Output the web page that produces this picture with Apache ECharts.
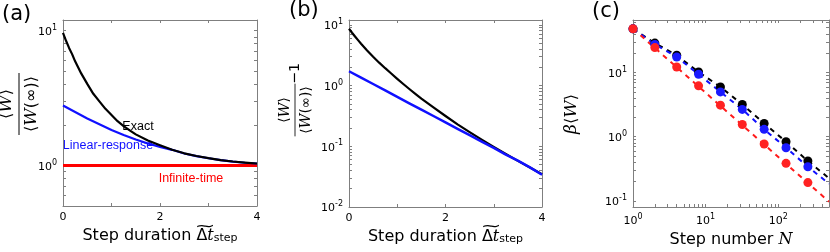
<!DOCTYPE html>
<html><head><meta charset="utf-8">
<script src="https://cdn.jsdelivr.net/npm/echarts@6/dist/echarts.min.js"></script>
<style>html,body{margin:0;padding:0;background:#fff}#c{width:830px;height:252px}</style>
</head><body><div id="c"></div>
<script>
// ---------- data ----------
const fineDuration = [0,0.0625,0.125,0.1875,0.25,0.375,0.5,0.625,0.75,0.875,1,1.125,1.25,1.375,1.5,1.75,2,2.25,2.5,2.75,3,3.25,3.5,3.75,4];
const coarseDuration = [0,0.25,0.5,0.75,1,1.25,1.5,1.75,2,2.25,2.5,2.75,3,3.25,3.5,3.75,4];
// panel (a): <W>/<W(inf)>
const exactRatio = [9.62,8.41,7.45,6.70,5.92,4.82,4.03,3.40,2.99,2.63,2.37,2.13,1.96,1.82,1.70,1.53,1.41,1.306,1.23,1.175,1.132,1.096,1.069,1.05,1.034];
const linRespRatio = [2.78,2.49,2.23,2.02,1.83,1.68,1.556,1.455,1.374,1.306,1.227,1.172,1.130,1.094,1.067,1.047,1.034];
const infTimeDur = [0,4];
const infTimeRatio = [1,1];
// panel (b): <W>/<W(inf)> - 1
const exactExcess = [8.61,7.41,6.43,5.59,4.88,3.78,2.97,2.38,1.93,1.58,1.29,1.06,0.877,0.731,0.611,0.437,0.315,0.230,0.171,0.1285,0.0977,0.0747,0.0575,0.0446,0.0346];
const linRespExcess = [1.72,1.35,1.06,0.83,0.65,0.51,0.40,0.315,0.247,0.194,0.152,0.119,0.094,0.073,0.058,0.045,0.034];
// panel (c): beta<W> vs step number N (markers)
const stepNumber = [1,2,4,8,16,32,64,128,256];
const exactWork = [48,28.8,18.6,10.2,5.97,3.18,1.61,0.834,0.417];
const linRespWork = [48,27.5,17.5,9.4,4.99,2.66,1.30,0.672,0.34];
const infTimeWork = [48.3,24.5,12.2,6.2,3.10,1.55,0.77,0.384,0.192];
// panel (c): dashed curves
const curveN = [1,2,4,8,16,32,64,128,256,500];
const exactCurve = [48,28.8,18.6,10.2,5.97,3.18,1.61,0.834,0.417,0.225];
const linRespCurve = [48,27.5,17.5,9.4,4.99,2.66,1.30,0.672,0.34,0.185];
const infTimeCurve = [48.3,24.2,12.1,6.05,3.02,1.51,0.755,0.378,0.189,0.097];
// ticks / labels
const linTicks = [0,1,2,3,4];
const linLabels = [0,2,4];
const yTicksA = [0.5,0.6,0.7,0.8,0.9,1,2,3,4,5,6,7,8,9,10];
const yLabelsA = [1,10];
const yTicksB = [0.01,0.02,0.03,0.04,0.05,0.06,0.07,0.08,0.09,0.1,0.2,0.3,0.4,0.5,0.6,0.7,0.8,0.9,1,2,3,4,5,6,7,8,9,10];
const yLabelsB = [0.01,0.1,1,10];
const yTicksC = [0.1,0.2,0.3,0.4,0.5,0.6,0.7,0.8,0.9,1,2,3,4,5,6,7,8,9,10,20,30,40,50,60];
const yLabelsC = [0.1,1,10];
const xTicksC = [1,2,3,4,5,6,7,8,9,10,20,30,40,50,60,70,80,90,100,200,300,400,500];
const xLabelsC = [1,10,100];

// ---------- styles ----------
const GRAY = '#7f7f7f';
const FONT = 'DejaVu Sans';
const NOTE = 'Liberation Sans';
const zip = (a,b) => a.map((v,i)=>[v,b[i]]);
const powFmt = v => '{m|10}{e|' + Math.round(Math.log10(v)) + '}';
const powRich = {m:{fontSize:11,fontFamily:FONT,color:'#000',lineHeight:14,verticalAlign:'bottom'},
                 e:{fontSize:8,fontFamily:FONT,color:'#000',lineHeight:8,verticalAlign:'top'}};
const nameRich = {r:{fontSize:16,fontFamily:FONT,color:'#000'},
                  d:{fontSize:16,fontFamily:FONT,color:'#000'},
                  t:{fontSize:16,fontFamily:'DejaVu Serif',fontStyle:'italic',color:'#000'},
                  s:{fontSize:11,fontFamily:FONT,color:'#000',verticalAlign:'bottom',lineHeight:10}};

function axis(grid, pos, type, min, max, ticks, labels, name, nameGap) {
  const main = !!labels;
  const a = {
    type, gridIndex: grid, position: pos, min, max,
    axisLine: {show: true, onZero: false, lineStyle: {color: GRAY, width: 1}},
    axisTick: {show: true, inside: true, length: 3, customValues: ticks, lineStyle: {color: GRAY, width: 1}},
    splitLine: {show: false},
    axisLabel: main ? {show: true, customValues: labels, fontFamily: FONT, fontSize: 11, color: '#000', margin: 6,
      hideOverlap: false, showMinLabel: true, showMaxLabel: true,
      formatter: type === 'log' ? powFmt : (v => String(v)), rich: powRich} : {show: false}
  };
  if (type === 'log') a.logBase = 10;
  if (name) {
    a.name = name; a.nameLocation = 'middle'; a.nameGap = nameGap;
    a.nameTextStyle = {rich: nameRich, fontFamily: FONT, fontSize: 16, color: '#000'};
  }
  return a;
}

const xName = '{r|Step duration }{d|Δ}{t|t}{s|step}';
const grids = [
  {left: 63, top: 20, width: 194, height: 186},
  {left: 349, top: 20, width: 193, height: 187},
  {left: 633, top: 20, width: 196, height: 187}
].map(g => Object.assign({containLabel: false, outerBoundsMode: 'none', show: false}, g));

const xAxes = [
  axis(0,'bottom','value',0,4,linTicks,linLabels,xName,22),
  axis(0,'top','value',0,4,linTicks,null),
  axis(1,'bottom','value',0,4,linTicks,linLabels,xName,22),
  axis(1,'top','value',0,4,linTicks,null),
  axis(2,'bottom','log',1,500,xTicksC,xLabelsC,'{r|Step number }{t|N}',24),
  axis(2,'top','log',1,500,xTicksC,null)
];
const yAxes = [
  axis(0,'left','log',0.5,12,yTicksA,yLabelsA),
  axis(0,'right','log',0.5,12,yTicksA,null),
  axis(1,'left','log',0.01,12,yTicksB,yLabelsB),
  axis(1,'right','log',0.01,12,yTicksB,null),
  axis(2,'left','log',0.08,66,yTicksC,yLabelsC),
  axis(2,'right','log',0.08,66,yTicksC,null)
];

function line(xi, yi, data, color, width, dash) {
  return {type:'line', xAxisIndex: xi, yAxisIndex: yi, data, showSymbol:false, symbol:'none', smooth:false,
    lineStyle:{color, width, type: dash ? [5,5] : 'solid', join:'round', cap:'butt'}, silent:true, animation:false, z:2};
}
function dots(data, color) {
  return {type:'scatter', xAxisIndex:4, yAxisIndex:4, data, symbolSize:9, itemStyle:{color, opacity:1},
    animation:false, silent:true, z:3, clip:false};
}

const series = [
  line(0,0,zip(infTimeDur,infTimeRatio),'#ff0000',3),
  line(0,0,zip(coarseDuration,linRespRatio),'#1010ff',2.2),
  line(0,0,zip(fineDuration,exactRatio),'#000000',2.2),
  line(2,2,zip(fineDuration,exactExcess),'#000000',2.2),
  line(2,2,zip(coarseDuration,linRespExcess),'#1010ff',2.5),
  line(4,4,zip(curveN,exactCurve),'#000000',2,true),
  line(4,4,zip(curveN,linRespCurve),'#1010ff',2,true),
  line(4,4,zip(curveN,infTimeCurve),'#ff1a1a',2,true),
  dots(zip(stepNumber,exactWork),'#000000'),
  dots(zip(stepNumber,linRespWork),'#1a1aff'),
  dots(zip(stepNumber,infTimeWork),'#ff2222')
];

const bra = {fontSize:16,fontFamily:FONT,color:'#000'};
const wI = {fontSize:17,fontFamily:'DejaVu Serif',fontStyle:'italic',color:'#000'};
function frac(x, y, s, extra) {
  const ch = [
    {type:'text', x:0, y:-12, style:{text:'{b|⟨}{w|W}{b|⟩}', rich:{b:bra,w:wI}, align:'center', verticalAlign:'middle'}},
    {type:'line', shape:{x1:-31,y1:0,x2:31,y2:0}, style:{stroke:'#000', lineWidth:1}},
    {type:'text', x:0, y:13, style:{text:'{b|⟨}{w|W}{b|(∞)⟩}', rich:{b:bra,w:wI}, align:'center', verticalAlign:'middle'}}
  ];
  if (extra) ch.push({type:'text', x:43, y:0, style:{text:'−1', font:'17px '+FONT, fill:'#000', align:'center', verticalAlign:'middle'}});
  return {type:'group', x, y, scaleX:s, scaleY:s, rotation: Math.PI/2, children: ch};
}
function tilde(x, y) {
  return {type:'text', x, y, scaleX:1.8, style:{text:'~', font:'14px '+FONT, fill:'#000', align:'center', verticalAlign:'middle'}};
}
const graphic = [
  {type:'text', x:2, y:15, style:{text:'(a)', font:'21px '+FONT, fill:'#000', verticalAlign:'middle'}},
  {type:'text', x:289, y:11, style:{text:'(b)', font:'21px '+FONT, fill:'#000', verticalAlign:'middle'}},
  {type:'text', x:592, y:12, style:{text:'(c)', font:'21px '+FONT, fill:'#000', verticalAlign:'middle'}},
  frac(19, 104, 1, false),
  frac(295, 110, 0.85, true),
  {type:'text', x:572, y:114, rotation:Math.PI/2, style:{text:'{w|β}{b|⟨}{w|W}{b|⟩}', rich:{b:bra,w:wI}, align:'center', verticalAlign:'middle'}},
  {type:'text', x:138, y:127, style:{text:'Exact', font:'12.5px '+NOTE, fill:'#000', align:'center', verticalAlign:'middle'}},
  {type:'text', x:108, y:146, style:{text:'Linear-response', font:'12.5px '+NOTE, fill:'#1010ff', align:'center', verticalAlign:'middle'}},
  {type:'text', x:191, y:179, style:{text:'Infinite-time', font:'12.5px '+NOTE, fill:'#ff0000', align:'center', verticalAlign:'middle'}},
  tilde(205, 227),
  tilde(491, 227)
];

const chart = echarts.init(document.getElementById('c'), null, {renderer:'canvas'});
chart.setOption({animation:false, backgroundColor:'#fff', grid:grids, xAxis:xAxes, yAxis:yAxes, series, graphic});
</script></body></html>
